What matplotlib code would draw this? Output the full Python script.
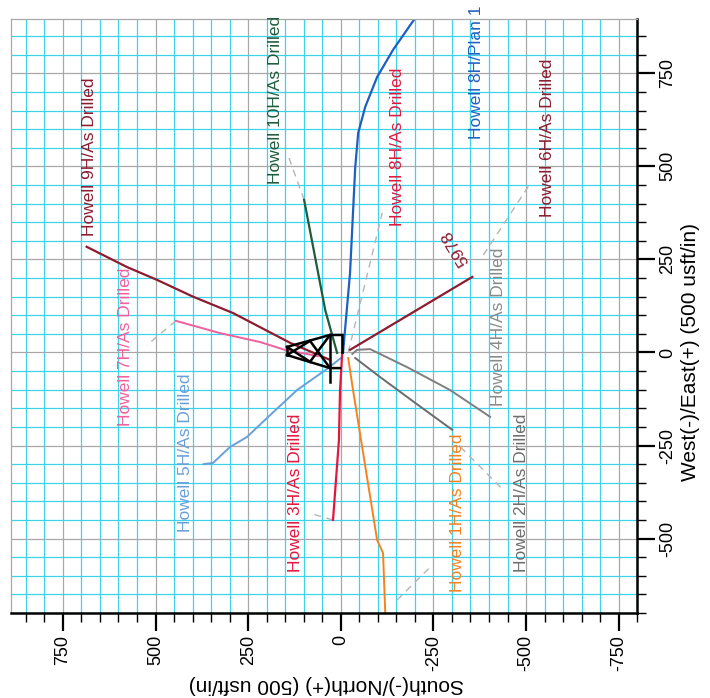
import numpy as np
import matplotlib.pyplot as plt
from matplotlib.ticker import MultipleLocator

plt.rcParams['font.family'] = ['Liberation Sans', 'DejaVu Sans']
plt.rcParams['axes.unicode_minus'] = False

# well paths in plan view: north and east offsets (usft)
h9_n = [686, 578, 496, 399, 291, 137, 29]
h9_e = [284, 230, 195, 150, 106, 26, -20]
h7_n = [445, 326, 218, 151, 60]
h7_e = [85, 52, 28, 7, -10]
h5_n = [-4, 34, 118, 199, 253, 299, 345, 370]
h5_e = [-12, -42, -101, -176, -227, -254, -297, -300]
h3_n = [-4, 2, 5, 13, 21]
h3_e = [1, -101, -235, -343, -450]
h10_n = [99, 42, 10]
h10_e = [410, 114, -1]
h8_n = [-6, -25, -39, -47, -66, -98, -141, -201]
h8_e = [-1, 214, 498, 590, 660, 740, 813, 899]
h6_n = [-25, -355]
h6_e = [7, 203]
h4_n = [-31, -44, -79, -180, -295, -403]
h4_e = [-4, 7, 9, -40, -101, -173]
h2_n = [-39, -106, -200, -301]
h2_e = [-15, -66, -135, -208]
h1_n = [-20, -33, -98, -114, -120]
h1_e = [-15, -101, -504, -539, -700]

# dashed grey extensions
ext = [
    ([445, 523], [85, 20]),
    ([99, 141], [410, 526]),
    ([-20, -112], [0, 375]),
    ([-385, -512], [262, 455]),
    ([-323, -439], [-254, -370]),
    ([-152, -241], [-665, -577]),
    ([21, 77], [-450, -434]),
]

# pad outline
pad_segs = [
    ([145, 29, -4], [15, 47, 47]),
    ([145, 29, 2], [-7, -42, -42]),
    ([145, 145], [15, -7]),
    ([145, 83], [15, -25]),
    ([145, 83], [-7, 31]),
    ([83, 29], [31, -42]),
    ([83, 29], [-25, 47]),
    ([29, 29], [47, -79]),
    ([-4, -4], [47, 1]),
]

labels = [
    ("Howell 9H/As Drilled", 678, 526, "#8c1c2e"),
    ("Howell 10H/As Drilled", 175, 679, "#1f5c3a"),
    ("Howell 8H/As Drilled", -152, 552, "#e3173e"),
    ("Howell 8H/Plan 1", -366, 752, "#1f5fc0"),
    ("Howell 6H/As Drilled", -558, 577, "#8c1c2e"),
    ("Howell 4H/As Drilled", -426, 70, "#8a8a8a"),
    ("Howell 2H/As Drilled", -487, -378, "#6e6e6e"),
    ("Howell 1H/As Drilled", -316, -432, "#f5821f"),
    ("Howell 3H/As Drilled", 121, -378, "#e3173e"),
    ("Howell 5H/As Drilled", 418, -270, "#6a9fd8"),
    ("Howell 7H/As Drilled", 580, 15, "#f0609e"),
]

fig = plt.figure(figsize=(7.1, 6.98), dpi=100)
ax = fig.add_axes([0.0155, 0.1218, 0.882, 0.851])

ax.set_xlim(890, -800)
ax.set_ylim(-700, 896)

# grid
for v in range(-800, 900, 50):
    c = "#a8a8a8" if v % 250 == 0 else "#3fd3ea"
    ax.axvline(v, color=c, lw=0.9, zorder=0)
for v in range(-700, 900, 50):
    c = "#a8a8a8" if v % 250 == 0 else "#3fd3ea"
    ax.axhline(v, color=c, lw=0.9, zorder=0)

for xs, ys in ext:
    ax.plot(xs, ys, color="#b5b5b5", lw=1, ls=(0, (5, 4)))

ax.plot(h9_n, h9_e, color="#8c1c2e", lw=1.6)
ax.plot(h7_n, h7_e, color="#f0609e", lw=1.4)
ax.plot(h5_n, h5_e, color="#6a9fd8", lw=1.4)
ax.plot(h3_n, h3_e, color="#e3173e", lw=1.6)
ax.plot(h10_n, h10_e, color="#1f5c3a", lw=1.6)
ax.plot(h8_n, h8_e, color="#1f5fc0", lw=1.6)
ax.plot(h6_n, h6_e, color="#8c1c2e", lw=1.6)
ax.plot(h4_n, h4_e, color="#7f7f7f", lw=1.4)
ax.plot(h2_n, h2_e, color="#6b6b6b", lw=1.4)
ax.plot(h1_n, h1_e, color="#f5821f", lw=1.4)

for xs, ys in pad_segs:
    ax.plot(xs, ys, color="black", lw=1.8)

for txt, x, y, c in labels:
    ax.text(x, y, txt, rotation=90, color=c, fontsize=12.5,
            ha="center", va="center")
ax.text(-310, 281, "5978", rotation=121, color="#8c1c2e", fontsize=12.5,
        ha="center", va="center")

# axes: bottom and right only
ax.spines["left"].set_color("#a8a8a8")
ax.spines["top"].set_color("#a8a8a8")
ax.spines["left"].set_linewidth(0.9)
ax.spines["top"].set_linewidth(0.9)
ax.spines["bottom"].set_linewidth(1.8)
ax.spines["right"].set_linewidth(1.8)

ax.yaxis.tick_right()
ax.xaxis.set_major_locator(MultipleLocator(250))
ax.xaxis.set_minor_locator(MultipleLocator(50))
ax.yaxis.set_major_locator(MultipleLocator(250))
ax.yaxis.set_minor_locator(MultipleLocator(50))
ax.tick_params(which="major", length=13, width=1.6, direction="out", labelsize=13, pad=3)
ax.tick_params(which="minor", length=6.5, width=1.0, direction="out")
ax.tick_params(axis="x", labelrotation=90)
ax.tick_params(axis="y", labelrotation=90)
for t in ax.get_yticklabels():
    t.set_va("center")

xl = ax.set_xlabel("South(-)/North(+) (500 usft/in)", fontsize=15, rotation=180)
xl.set_va("center")
xl.set_ha("center")
ax.xaxis.set_label_coords(0.503, -0.12)
yl = ax.set_ylabel("West(-)/East(+) (500 usft/in)", fontsize=15, rotation=90)
ax.yaxis.set_label_position("right")
yl.set_va("center")
yl.set_ha("center")
ax.yaxis.set_label_coords(1.085, 0.439)

fig.savefig("out.png", dpi=100)
